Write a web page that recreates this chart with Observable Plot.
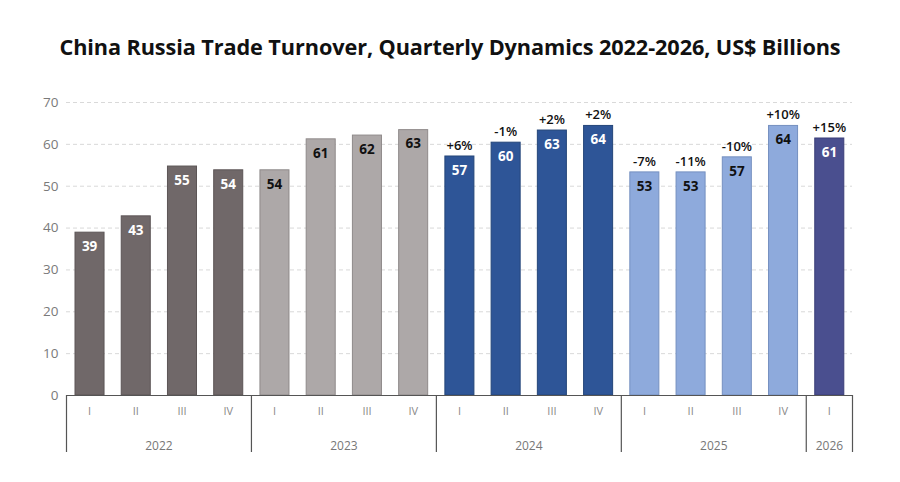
<!DOCTYPE html>
<html>
<head>
<meta charset="utf-8">
<script src="https://cdn.jsdelivr.net/npm/d3@7"></script>
<script src="https://cdn.jsdelivr.net/npm/@observablehq/plot@0.6"></script>
<style>
  html, body { margin: 0; padding: 0; background: #fff; }
  body { width: 900px; height: 482px; overflow: hidden; font-family: "Open Sans", sans-serif; }
  #title { height: 80px; box-sizing: border-box; padding-top: 32px; line-height: 30px; text-align: center;
           font-size: 21.7px; font-weight: 700; color: #111; letter-spacing: -0.1px; }
</style>
</head>
<body>
<div id="title">China Russia Trade Turnover, Quarterly Dynamics 2022-2026, US$ Billions</div>
<div id="chart"></div>
<script>
// ---- data ----
const years = ["2022", "2023", "2024", "2025", "2026"];
const yearColors = ["#706869", "#ada8a8", "#2e5597", "#8eaadc", "#4a4f8f"];
const yearStrokes = ["#5c5556", "#8f8a8a", "#244679", "#7590c0", "#3b3f78"];
const yearLabelColors = ["#ffffff", "#111111", "#ffffff", "#111111", "#ffffff"];
const quarterYears = ["2022","2022","2022","2022","2023","2023","2023","2023","2024","2024","2024","2024","2025","2025","2025","2025","2026"];
const quarters = ["I","II","III","IV","I","II","III","IV","I","II","III","IV","I","II","III","IV","I"];
const values = [38.9, 42.8, 54.7, 53.8, 53.8, 61.2, 62.1, 63.4, 57.1, 60.4, 63.3, 64.4, 53.3, 53.3, 56.9, 64.4, 61.4];
const changes = [null, null, null, null, null, null, null, null, "+6%", "-1%", "+2%", "+2%", "-7%", "-11%", "-10%", "+10%", "+15%"];
const yTicks = [0, 10, 20, 30, 40, 50, 60, 70];

// ---- derived table ----
const rows = values.map((v, i) => ({
  i, year: quarterYears[i], quarter: quarters[i], value: v, change: changes[i]
}));
const yearOf = y => years.indexOf(y);
const yearGroups = years.map(y => {
  const idx = rows.filter(r => r.year === y).map(r => r.i);
  return { year: y, start: d3.min(idx), end: d3.max(idx) + 1 };
});
const separators = [0, ...yearGroups.map(g => g.end)];

const chart = Plot.plot({
  width: 900,
  height: 402,
  marginLeft: 66,
  marginRight: 48,
  marginTop: 22,
  marginBottom: 87,
  style: { fontFamily: "Open Sans, sans-serif", background: "#fff" },
  x: { domain: [0, rows.length], axis: null },
  y: { domain: [0, 70], axis: null },
  marks: [
    Plot.ruleY(yTicks.filter(t => t > 0), { stroke: "#d9d9d9", strokeDasharray: "4,3", strokeWidth: 1 }),
    Plot.text(yTicks, { x: 0, y: d => d, text: d => String(d), textAnchor: "end", dx: -8, fill: "#7a7a7a", fontSize: 13.5 }),
    Plot.rectY(rows, {
      x1: d => d.i, x2: d => d.i + 1, y1: 0, y2: "value",
      insetLeft: 9, insetRight: 8.2,
      fill: d => yearColors[yearOf(d.year)],
      stroke: d => yearStrokes[yearOf(d.year)],
      strokeWidth: 1
    }),
    Plot.text(rows, {
      x: d => d.i + 0.5, y: "value", text: d => String(Math.round(d.value)),
      dy: 14, fontWeight: 700, fontSize: 13.5,
      fill: d => yearLabelColors[yearOf(d.year)]
    }),
    Plot.text(rows.filter(d => d.change), {
      x: d => d.i + 0.5, y: "value", text: "change",
      dy: -11, fontSize: 13, fontWeight: 600, fill: "#111"
    }),
    Plot.ruleY([0], { stroke: "#555", strokeWidth: 1.2 }),
    Plot.ruleX(separators, { x: d => d, y1: 0, insetBottom: -57, stroke: "#555", strokeWidth: 1.2 }),
    Plot.text(rows, {
      x: d => d.i + 0.5, y: 0, text: "quarter", dy: 16, fontSize: 11, fill: "#888"
    }),
    Plot.text(yearGroups, {
      x: d => (d.start + d.end) / 2, y: 0, text: "year", dy: 51, fontSize: 12, fill: "#777"
    })
  ]
});
document.getElementById("chart").appendChild(chart);
</script>
</body>
</html>
